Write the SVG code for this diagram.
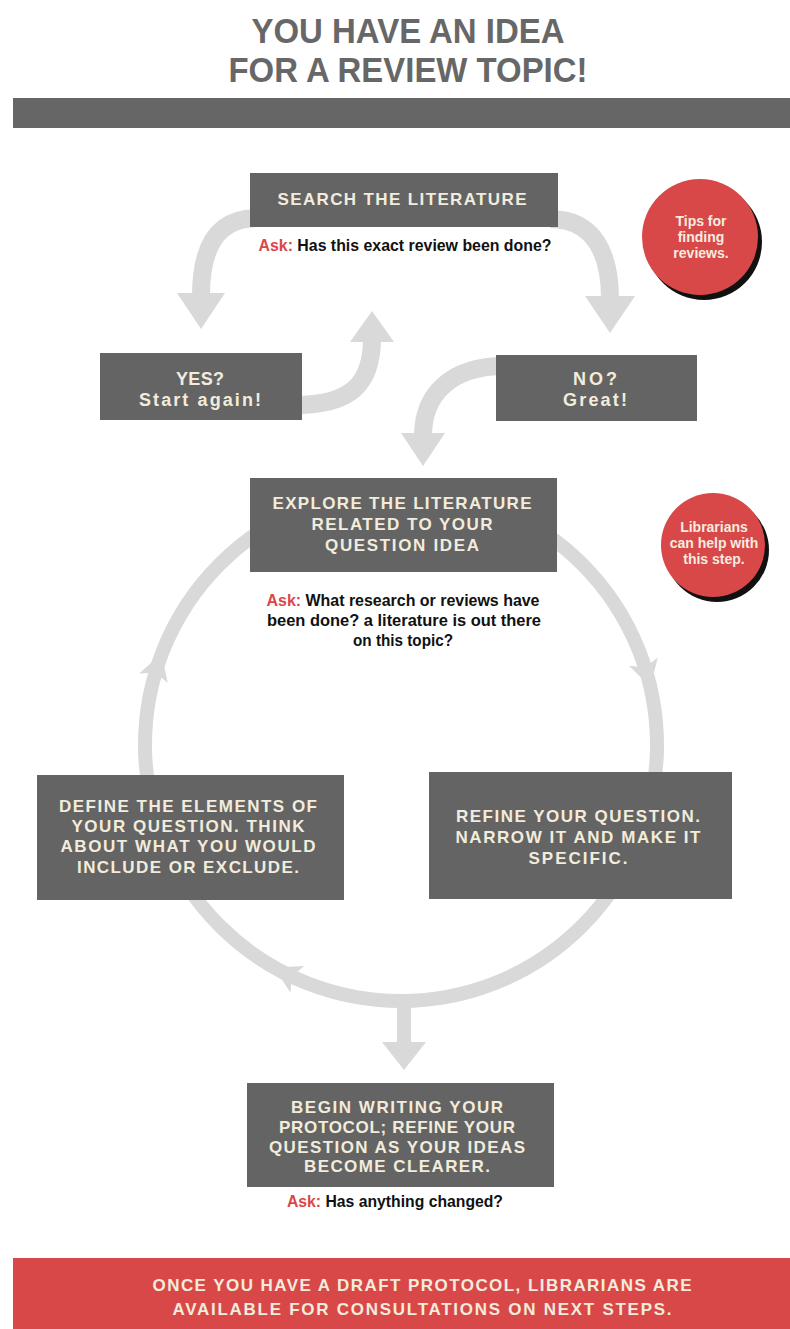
<svg xmlns="http://www.w3.org/2000/svg" xmlns:xlink="http://www.w3.org/1999/xlink" width="790" height="1329" viewBox="0 0 790 1329">
<defs>
<style>
.box{fill:#646464}
.bt{font-family:"Liberation Sans",Arial,sans-serif;font-weight:bold;font-size:17px;fill:#f2ecdc;text-anchor:middle}
.yn{font-family:"Liberation Sans",Arial,sans-serif;font-weight:bold;font-size:18px;fill:#f2ecdc;text-anchor:middle}
.ask{font-family:"Liberation Sans Narrow","Liberation Sans",Arial,sans-serif;font-weight:bold;font-size:16px;fill:#111;text-anchor:middle}
.red{fill:#d94848}
.ct{font-family:"Liberation Sans Narrow","Liberation Sans",Arial,sans-serif;font-weight:bold;font-size:14px;fill:#f5ece0;text-anchor:middle}
.title{font-family:"Liberation Sans Narrow","Liberation Sans",Arial,sans-serif;font-weight:bold;font-size:35px;fill:#676767;text-anchor:middle}
.arc{fill:none;stroke:#d9d9d9;stroke-width:18}
.loop{fill:none;stroke:#d9d9d9;stroke-width:14}
.head{fill:#d9d9d9}
</style>
<path id="lh" d="M12 0 L-14 -15 L-8 0 L-14 15 Z"/>
</defs>
<rect width="790" height="1329" fill="#ffffff"/>

<g id="title">
<text class="title" x="408" y="43" textLength="313" lengthAdjust="spacingAndGlyphs">YOU HAVE AN IDEA</text>
<text class="title" x="408" y="82" textLength="359" lengthAdjust="spacingAndGlyphs">FOR A REVIEW TOPIC!</text>
<rect x="13" y="98" width="777" height="30" fill="#666666"/>
</g>

<g id="connectors">
<path class="arc" d="M258 218 C215 218 201 250 201 296"/>
<polygon class="head" points="177,293 225,293 201,329"/>
<path class="arc" d="M550 219 C595 219 610 255 610 299"/>
<polygon class="head" points="585,296 635,296 610,333"/>
<path class="arc" d="M295 405 C350 405 372 385 372 338"/>
<polygon class="head" points="350,342 394,342 372,311"/>
<path class="arc" d="M505 366 C450 366 423 395 423 436"/>
<polygon class="head" points="401,433 445,433 423,466"/>
<circle class="loop" cx="401" cy="745" r="256"/>
<use href="#lh" class="head" transform="translate(157.8,665) rotate(-71.8)"/>
<use href="#lh" class="head" transform="translate(647.2,675) rotate(74.1)"/>
<use href="#lh" class="head" transform="translate(284.8,973) rotate(207)"/>
<rect x="397" y="995" width="14" height="50" fill="#d9d9d9"/>
<polygon class="head" points="382,1042 426,1042 404,1070"/>
</g>

<g id="search">
<rect class="box" x="250" y="173" width="308" height="54"/>
<text class="bt" x="402" y="205" textLength="249" lengthAdjust="spacing">SEARCH THE LITERATURE</text>
<text class="ask" x="405" y="251" textLength="293" lengthAdjust="spacingAndGlyphs"><tspan class="red">Ask:</tspan> Has this exact review been done?</text>
</g>

<g id="tips">
<circle cx="704" cy="242" r="58" fill="#111"/>
<circle class="red" cx="700" cy="237" r="58"/>
<text class="ct" x="701" y="226">Tips for</text>
<text class="ct" x="701" y="242">finding</text>
<text class="ct" x="701" y="258">reviews.</text>
</g>

<g id="yes">
<rect class="box" x="100" y="353" width="202" height="67"/>
<text class="yn" x="200" y="385" textLength="48" lengthAdjust="spacing">YES?</text>
<text class="yn" x="200" y="406" textLength="122" lengthAdjust="spacing">Start again!</text>
</g>

<g id="no">
<rect class="box" x="496" y="355" width="201" height="66"/>
<text class="yn" x="595" y="385" textLength="44" lengthAdjust="spacing">NO?</text>
<text class="yn" x="595" y="406" textLength="64" lengthAdjust="spacing">Great!</text>
</g>

<g id="explore">
<rect class="box" x="250" y="478" width="307" height="94"/>
<text class="bt" x="402" y="509" textLength="259" lengthAdjust="spacing">EXPLORE THE LITERATURE</text>
<text class="bt" x="402" y="530" textLength="181" lengthAdjust="spacing">RELATED TO YOUR</text>
<text class="bt" x="402" y="551" textLength="154" lengthAdjust="spacing">QUESTION IDEA</text>
<text class="ask" x="403" y="606" textLength="273" lengthAdjust="spacingAndGlyphs"><tspan class="red">Ask:</tspan> What research or reviews have</text>
<text class="ask" x="404" y="626" textLength="274" lengthAdjust="spacingAndGlyphs">been done? a literature is out there</text>
<text class="ask" x="403" y="646" textLength="100" lengthAdjust="spacingAndGlyphs">on this topic?</text>
</g>

<g id="librarians">
<circle cx="717" cy="550" r="52" fill="#111"/>
<circle class="red" cx="713" cy="545" r="52"/>
<text class="ct" x="714" y="532">Librarians</text>
<text class="ct" x="714" y="548">can help with</text>
<text class="ct" x="714" y="564">this step.</text>
</g>

<g id="define">
<rect class="box" x="37" y="775" width="307" height="125"/>
<text class="bt" x="188" y="812" textLength="258" lengthAdjust="spacing">DEFINE THE ELEMENTS OF</text>
<text class="bt" x="188" y="832" textLength="233" lengthAdjust="spacing">YOUR QUESTION. THINK</text>
<text class="bt" x="188" y="852" textLength="255" lengthAdjust="spacing">ABOUT WHAT YOU WOULD</text>
<text class="bt" x="188" y="873" textLength="222" lengthAdjust="spacing">INCLUDE OR EXCLUDE.</text>
</g>

<g id="refine">
<rect class="box" x="429" y="772" width="303" height="127"/>
<text class="bt" x="578" y="822" textLength="244" lengthAdjust="spacing">REFINE YOUR QUESTION.</text>
<text class="bt" x="578" y="843" textLength="245" lengthAdjust="spacing">NARROW IT AND MAKE IT</text>
<text class="bt" x="578" y="864" textLength="99" lengthAdjust="spacing">SPECIFIC.</text>
</g>

<g id="begin">
<rect class="box" x="247" y="1083" width="307" height="104"/>
<text class="bt" x="397" y="1113" textLength="212" lengthAdjust="spacing">BEGIN WRITING YOUR</text>
<text class="bt" x="397" y="1133" textLength="236" lengthAdjust="spacing">PROTOCOL; REFINE YOUR</text>
<text class="bt" x="397" y="1153" textLength="256" lengthAdjust="spacing">QUESTION AS YOUR IDEAS</text>
<text class="bt" x="397" y="1172" textLength="186" lengthAdjust="spacing">BECOME CLEARER.</text>
<text class="ask" x="395" y="1207" textLength="216" lengthAdjust="spacingAndGlyphs"><tspan class="red">Ask:</tspan> Has anything changed?</text>
</g>

<g id="footer">
<rect x="13" y="1258" width="777" height="71" fill="#d94848"/>
<text class="bt" x="422" y="1291" font-size="17" textLength="539" lengthAdjust="spacing">ONCE YOU HAVE A DRAFT PROTOCOL, LIBRARIANS ARE</text>
<text class="bt" x="422" y="1315" font-size="17" textLength="499" lengthAdjust="spacing">AVAILABLE FOR CONSULTATIONS ON NEXT STEPS.</text>
</g>
</svg>
